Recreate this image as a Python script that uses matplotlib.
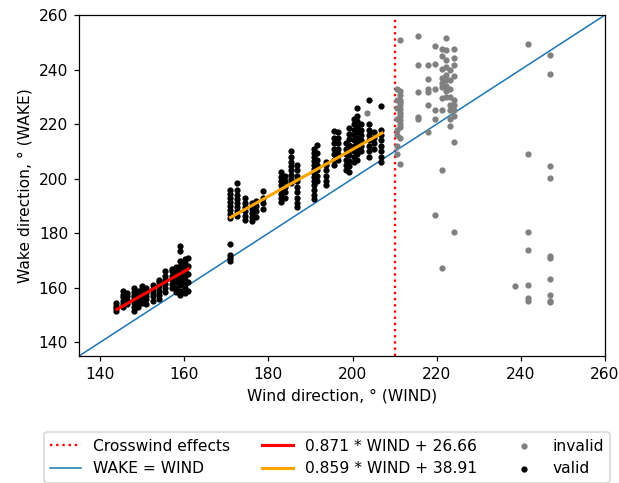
import matplotlib
matplotlib.use("Agg")
import matplotlib.pyplot as plt
import numpy as np

# ---- data ----
valid_cols = [143.8, 145.5, 146.5, 148.0, 149.0, 150.0, 151.0, 152.5, 154.0, 155.5,
              157.0, 158.0, 159.0, 160.3, 160.8,
              171.0, 172.5, 174.5, 176.0, 177.0, 178.7, 183.0, 184.0, 185.4, 186.8,
              190.8, 191.5, 193.6, 195.5, 196.5, 198.5, 199.2, 200.3, 201.0, 202.0,
              203.8, 205.0, 206.8]
valid_ys = [
    [151.5, 152.5, 153.5, 154.5],
    [153, 154, 155, 156.5, 157.5, 159],
    [154, 155.5, 157, 158],
    [151.5, 153, 154.5, 155.5, 156.5, 157.5, 158.5, 160],
    [153, 154, 155, 156, 157, 158, 159],
    [154.5, 155.5, 156.5, 157.5, 158.5, 159.5, 160.5],
    [154, 156, 157, 158, 159, 160],
    [155, 157, 158, 159.5, 161],
    [156, 157.5, 159, 160.5, 162, 163],
    [158.5, 160, 161.5, 163, 164.5, 166],
    [160, 161.5, 163, 164.5, 166, 167],
    [158.5, 160, 162, 163.5, 165, 166.5, 167.5],
    [157.5, 159, 161, 162.5, 164, 165.5, 167, 168, 170, 173.5, 175.5],
    [158, 160, 161.5, 163, 164.5, 166, 167.5, 169, 170.5],
    [159, 162, 165, 168, 171],
    [170, 171, 172, 176, 185.5, 187, 188.5, 190, 191.5, 193, 194.5, 196],
    [186.5, 188, 189.5, 191, 192.5, 194, 196, 198.5],
    [185, 186.5, 188, 189.5, 191, 193],
    [184.5, 186, 187.5, 189, 191],
    [186, 188, 190, 192],
    [189, 191, 193, 195.5],
    [191.5, 193, 194.5, 196, 197.5, 199, 200.5, 202.5],
    [193, 195, 197, 199, 201],
    [198.5, 200, 201.5, 203, 204.5, 206, 208, 210],
    [189.5, 191, 193, 195, 197, 199, 201, 203, 205],
    [192.5, 194, 196, 197.5, 199, 200.5, 202, 203.5, 205, 206.5, 208, 209.5, 211],
    [199, 201, 203, 205, 207, 209.5, 212.5],
    [197.5, 199, 201, 203, 205, 206],
    [205, 207, 209, 211, 213, 215, 217.5],
    [207, 209, 211, 213, 215, 217],
    [203, 205, 207, 209, 211, 213],
    [202.5, 204.5, 206.5, 208.5, 210.5, 212.5, 214.5, 216.5, 218.5],
    [206, 208, 210, 212, 214, 216, 218, 220, 222],
    [207, 209, 211, 213, 215, 217, 219, 221, 223, 226],
    [210, 212, 214, 216, 218, 220],
    [208, 210, 212, 214, 216, 218, 220, 229],
    [211, 213, 215, 217],
    [206, 208, 210, 212, 214, 216, 218, 226.5],
]

invalid_cols = [203.5, 210.6, 211.3, 215.6, 218.0, 219.5, 221.2, 222.3, 223.2, 224.1,
                238.5, 241.8, 246.9]
invalid_ys = [
    [224],
    [233, 229, 226, 222, 218, 216, 212, 209],
    [251, 232, 230.5, 229, 228, 227, 225.5, 224, 223, 221.5, 220, 219, 215, 205.5],
    [252.3, 241.7, 231.8, 222.5, 221.8],
    [241.7, 236.7, 232.8, 231.8, 227, 217],
    [248.6, 241.9, 233, 225.3, 222, 186.6],
    [247.7, 244.8, 240.1, 237, 235, 233.5, 229.4, 225.3, 203.2, 167.1],
    [251.5, 247.1, 243.4, 241, 238, 236, 234, 232, 230],
    [240, 236, 233, 230, 227, 225, 221.7, 219.3],
    [247.7, 244.2, 241.5, 237.5, 229, 227, 225, 223, 213.5, 180.3],
    [160.5],
    [249.5, 209.1, 180.3, 173.9, 161.1, 156.2, 155.2],
    [245.3, 238.5, 204.7, 200.4, 171.5, 170.8, 163.1, 157.3, 155.2, 154.8],
]

crosswind_x = 210
fit1_coef = (0.871, 26.66)
fit1_range = (144, 161)
fit2_coef = (0.859, 38.91)
fit2_range = (171, 207)
x_ticks = [140, 160, 180, 200, 220, 240, 260]
y_ticks = [140, 160, 180, 200, 220, 240, 260]

# ---- plot ----
vx = np.concatenate([[c] * len(ys) for c, ys in zip(valid_cols, valid_ys)])
vy = np.concatenate(valid_ys)
ix = np.concatenate([[c] * len(ys) for c, ys in zip(invalid_cols, invalid_ys)])
iy = np.concatenate(invalid_ys)

DPI = 112
fig = plt.figure(figsize=(619 / DPI, 483 / DPI), dpi=DPI)
ax = fig.add_axes([79 / 619, 1 - 356 / 483, 526 / 619, 341 / 483])

h_cross = ax.axvline(crosswind_x, color='red', linestyle=':', linewidth=1.5,
                     label='Crosswind effects')
h_id, = ax.plot([135, 260], [135, 260], color='#1f77b4', linewidth=1,
                label='WAKE = WIND')
h_inv = ax.scatter(ix, iy, s=9, color='grey', label='invalid', zorder=2)
h_val = ax.scatter(vx, vy, s=9, color='black', label='valid', zorder=2)
xs1 = np.array(fit1_range)
h_f1, = ax.plot(xs1, fit1_coef[0] * xs1 + fit1_coef[1], color='red', linewidth=2,
                label=f'{fit1_coef[0]} * WIND + {fit1_coef[1]}', zorder=3)
xs2 = np.array(fit2_range)
h_f2, = ax.plot(xs2, fit2_coef[0] * xs2 + fit2_coef[1], color='orange', linewidth=2,
                label=f'{fit2_coef[0]} * WIND + {fit2_coef[1]}', zorder=3)

ax.set_xlim(135, 260)
ax.set_ylim(135, 260)
ax.set_xticks(x_ticks)
ax.set_yticks(y_ticks)
ax.set_xlabel('Wind direction, ° (WIND)')
ax.set_ylabel('Wake direction, ° (WAKE)')

ax.legend(handles=[h_cross, h_id, h_f1, h_f2, h_inv, h_val], ncol=3,
          loc='upper center', bbox_to_anchor=(0.471, -0.201))

fig.savefig('out.png', dpi=DPI)
